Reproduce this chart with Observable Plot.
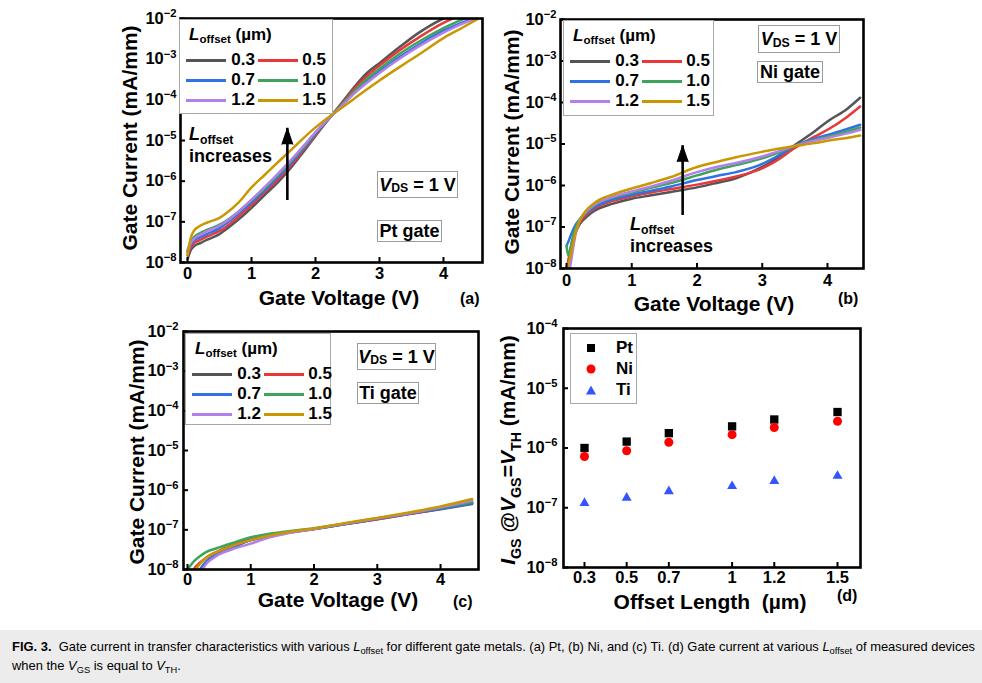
<!DOCTYPE html>
<html><head><meta charset="utf-8">
<script src="https://cdn.jsdelivr.net/npm/d3@7"></script>
<script src="https://cdn.jsdelivr.net/npm/@observablehq/plot@0.6"></script>
<style>
html,body{margin:0;padding:0;background:#fff;}
#fig{position:relative;width:982px;height:683px;overflow:hidden;font-family:"Liberation Sans",Arial,sans-serif;color:#000;}
.panel{position:absolute;}
.panel svg{position:absolute;left:0;top:0;overflow:visible;}
.abs{position:absolute;white-space:nowrap;}
.box{position:absolute;background:#fff;border:1px solid #9c9c9c;box-sizing:border-box;font-weight:bold;font-size:18px;line-height:1;display:flex;align-items:center;justify-content:center;white-space:nowrap;}
.leg{position:absolute;background:#fff;border:1px solid #a8a8a8;box-sizing:border-box;font-weight:bold;font-size:17px;}
.sub{font-size:0.68em;position:relative;top:0.3em;}
.note{position:absolute;font-weight:bold;font-size:18px;line-height:20px;white-space:nowrap;}
.tag{position:absolute;font-weight:bold;font-size:16px;white-space:nowrap;}
#cap{position:absolute;left:0;top:630px;width:982px;height:53px;background:#ececec;}
#captxt{position:absolute;left:12px;top:8px;font-family:"Liberation Sans Narrow","Liberation Sans",Arial,sans-serif;font-size:13.5px;line-height:18px;white-space:nowrap;transform-origin:0 0;}
#captxt .s{font-size:0.72em;position:relative;top:0.3em;}
</style></head>
<body><div id="fig"></div>
<script>
// ---------- shared ----------
const L_NAMES = ["0.3", "0.5", "0.7", "1.0", "1.2", "1.5"];
const L_COLORS = ["#555555", "#e8383a", "#2f72e6", "#3ea45c", "#b37fe8", "#c99700"];
const Y_TICKS_IV = [1e-8, 1e-7, 1e-6, 1e-5, 1e-4, 1e-3, 1e-2];
const X_TICKS_V = [0, 1, 2, 3, 4];

// ---------- (a) Pt gate ----------
const VA = [0, 0.05, 0.1, 0.2, 0.3, 0.5, 0.6, 0.8, 1.0, 1.2, 1.4, 1.6, 1.8, 2.0, 2.2, 2.4, 2.6, 2.8, 3.0, 3.3, 3.6, 4.0, 4.3, 4.55];
const A_03 = [1.2e-8, 2e-8, 2.5e-8, 3e-8, 3.6e-8, 5e-8, 6.5e-8, 1.15e-7, 2.2e-7, 4.5e-7, 9e-7, 2e-6, 5e-6, 1.3e-5, 3.3e-5, 8e-5, 2e-4, 4.5e-4, 8e-4, 1.9e-3, 4.3e-3, 1e-2, 1.5e-2, 2e-2];
const A_05 = [1.5e-8, 2.3e-8, 3e-8, 3.6e-8, 4.3e-8, 6e-8, 7.5e-8, 1.35e-7, 2.6e-7, 5.2e-7, 1.05e-6, 2.3e-6, 5.5e-6, 1.35e-5, 3.3e-5, 7.5e-5, 1.8e-4, 3.8e-4, 7e-4, 1.6e-3, 3.3e-3, 7.8e-3, 1.25e-2, 1.6e-2];
const A_07 = [1.8e-8, 2.7e-8, 3.5e-8, 4.2e-8, 5e-8, 7e-8, 9e-8, 1.6e-7, 3e-7, 5.8e-7, 1.2e-6, 2.6e-6, 6e-6, 1.45e-5, 3.3e-5, 7e-5, 1.5e-4, 2.9e-4, 5e-4, 1.1e-3, 2.2e-3, 5e-3, 8e-3, 1.1e-2];
const A_10 = [2e-8, 3.2e-8, 4.2e-8, 5.3e-8, 6.3e-8, 8.5e-8, 1.05e-7, 1.8e-7, 3.4e-7, 6.5e-7, 1.35e-6, 2.9e-6, 6.5e-6, 1.55e-5, 3.4e-5, 7.2e-5, 1.6e-4, 3.2e-4, 5.8e-4, 1.3e-3, 2.6e-3, 5.8e-3, 9.5e-3, 1.25e-2];
const A_12 = [1.8e-8, 3e-8, 3.8e-8, 4.8e-8, 5.8e-8, 8e-8, 1e-7, 1.8e-7, 3.5e-7, 7e-7, 1.45e-6, 3.1e-6, 7e-6, 1.6e-5, 3.4e-5, 6.8e-5, 1.4e-4, 2.6e-4, 4.6e-4, 1e-3, 2e-3, 4.5e-3, 7.5e-3, 1.05e-2];
const A_15 = [1.5e-8, 4e-8, 6e-8, 8e-8, 9.5e-8, 1.25e-7, 1.6e-7, 3e-7, 7e-7, 1.4e-6, 2.8e-6, 5.5e-6, 1.1e-5, 2.1e-5, 3.7e-5, 6.2e-5, 1.05e-4, 1.8e-4, 3e-4, 6.2e-4, 1.25e-3, 3.3e-3, 6e-3, 1e-2];
const ARROW_A = [{v: 1.56, from: 5.9e-7, to: 2e-5}];

// ---------- (b) Ni gate ----------
const VB = [0, 0.03, 0.06, 0.1, 0.15, 0.2, 0.3, 0.4, 0.5, 0.7, 1.0, 1.3, 1.6, 2.0, 2.3, 2.6, 3.0, 3.2, 3.5, 3.8, 4.0, 4.3, 4.5];
const B_03 = [1e-8, 1.5e-8, 2.5e-8, 4.5e-8, 8e-8, 1.15e-7, 1.7e-7, 2.3e-7, 2.8e-7, 3.6e-7, 4.8e-7, 5.8e-7, 7e-7, 9e-7, 1.15e-6, 1.5e-6, 2.8e-6, 4.3e-6, 9.5e-6, 2e-5, 3.5e-5, 7e-5, 1.3e-4];
const B_05 = [1e-8, 1.6e-8, 3e-8, 5.5e-8, 9e-8, 1.3e-7, 1.9e-7, 2.6e-7, 3.2e-7, 4.2e-7, 5.5e-7, 6.8e-7, 8.2e-7, 1.05e-6, 1.3e-6, 1.65e-6, 2.6e-6, 3.8e-6, 8e-6, 1.5e-5, 2.2e-5, 4.5e-5, 8e-5];
const B_07 = [3.5e-8, 4.5e-8, 6e-8, 8.5e-8, 1.2e-7, 1.5e-7, 2.1e-7, 2.8e-7, 3.5e-7, 4.6e-7, 6e-7, 7.5e-7, 9.5e-7, 1.35e-6, 1.7e-6, 2.1e-6, 3.3e-6, 4.8e-6, 9e-6, 1.35e-5, 1.65e-5, 2.3e-5, 2.9e-5];
const B_10 = [3.5e-8, 2e-8, 3e-8, 6e-8, 1.05e-7, 1.5e-7, 2.3e-7, 3.1e-7, 3.9e-7, 5.1e-7, 6.8e-7, 8.8e-7, 1.15e-6, 1.75e-6, 2.4e-6, 3.1e-6, 4.5e-6, 5.8e-6, 9e-6, 1.25e-5, 1.5e-5, 2e-5, 2.5e-5];
const B_12 = [5e-9, 7e-9, 1.2e-8, 3e-8, 8e-8, 1.4e-7, 2.3e-7, 3.2e-7, 4e-7, 5.3e-7, 7.2e-7, 9.5e-7, 1.3e-6, 2.1e-6, 2.8e-6, 3.5e-6, 5e-6, 6.3e-6, 9e-6, 1.2e-5, 1.4e-5, 1.8e-5, 2.2e-5];
const B_15 = [1e-8, 1.3e-8, 2e-8, 4e-8, 8.5e-8, 1.4e-7, 2.5e-7, 3.5e-7, 4.5e-7, 6e-7, 8.5e-7, 1.15e-6, 1.6e-6, 2.8e-6, 3.7e-6, 4.8e-6, 6.5e-6, 7.5e-6, 9e-6, 1.05e-5, 1.2e-5, 1.4e-5, 1.6e-5];
const ARROW_B = [{v: 1.78, from: 3.3e-7, to: 9.1e-6}];

// ---------- (c) Ti gate ----------
const VC = [0, 0.1, 0.2, 0.3, 0.4, 0.5, 0.7, 1.0, 1.3, 1.6, 2.0, 2.5, 3.0, 3.5, 4.0, 4.5];
const C_03 = [2e-9, 5e-9, 1e-8, 1.6e-8, 2.1e-8, 2.6e-8, 3.5e-8, 5.5e-8, 7e-8, 8.5e-8, 1.05e-7, 1.4e-7, 1.85e-7, 2.5e-7, 3.3e-7, 4.5e-7];
const C_05 = [3e-9, 1e-8, 1.5e-8, 2e-8, 2.5e-8, 3e-8, 4e-8, 5.8e-8, 7.2e-8, 8.7e-8, 1.05e-7, 1.4e-7, 1.85e-7, 2.5e-7, 3.4e-7, 4.8e-7];
const C_07 = [2e-9, 5e-9, 1e-8, 1.6e-8, 2.1e-8, 2.6e-8, 3.6e-8, 5.5e-8, 7e-8, 8.6e-8, 1.05e-7, 1.4e-7, 1.9e-7, 2.55e-7, 3.4e-7, 4.7e-7];
const C_10 = [1e-8, 1.6e-8, 2.2e-8, 2.8e-8, 3.2e-8, 3.6e-8, 4.6e-8, 6.5e-8, 8e-8, 9.2e-8, 1.1e-7, 1.45e-7, 1.95e-7, 2.6e-7, 3.6e-7, 5e-7];
const C_12 = [1e-9, 4e-9, 8e-9, 1.4e-8, 1.9e-8, 2.4e-8, 3.2e-8, 4.5e-8, 6.5e-8, 8.3e-8, 1.05e-7, 1.45e-7, 1.95e-7, 2.6e-7, 3.7e-7, 5.5e-7];
const C_15 = [2e-9, 8e-9, 1.4e-8, 2e-8, 2.5e-8, 2.9e-8, 3.9e-8, 5.5e-8, 7.2e-8, 8.8e-8, 1.08e-7, 1.48e-7, 2e-7, 2.75e-7, 3.9e-7, 6e-7];

// ---------- (d) I_GS at V_GS = V_TH ----------
const OFFSET = [0.3, 0.5, 0.7, 1.0, 1.2, 1.5];
const METALS = ["Pt", "Ni", "Ti"];
const METAL_COLORS = ["#000000", "#ff0000", "#3355ff"];
const METAL_SYMBOLS = ["square", "circle", "triangle"];
const D_PT = [1e-6, 1.28e-6, 1.77e-6, 2.3e-6, 3e-6, 4e-6];
const D_NI = [7.2e-7, 9e-7, 1.25e-6, 1.67e-6, 2.2e-6, 2.8e-6];
const D_TI = [1.2e-7, 1.47e-7, 1.88e-7, 2.3e-7, 2.8e-7, 3.4e-7];
const Y_TICKS_D = [1e-8, 1e-7, 1e-6, 1e-5, 1e-4];

// ---------- helpers ----------
const FONT = '"Liberation Sans", Arial, sans-serif';
const fig = document.getElementById("fig");
const supFmt = d => "10^{" + String(Math.round(Math.log10(d))).replace("-", "\u2212") + "}";
const toLong = (V, series) => series.flatMap((vals, k) => vals.map((y, i) => ({v: V[i], i: y, L: L_NAMES[k]})));

function el(tag, cls, parent, css) {
  const e = document.createElement(tag);
  if (cls) e.className = cls;
  if (css) e.style.cssText = css;
  parent.appendChild(e);
  return e;
}
function panel(left, top) { return el("div", "panel", fig, `left:${left}px;top:${top}px;width:490px;height:310px`); }

function richify(svg) {
  const NS = "http://www.w3.org/2000/svg";
  svg.querySelectorAll("text").forEach(t => {
    const s = t.textContent;
    if (!/[_^~]\{/.test(s)) return;
    const fs = parseFloat(getComputedStyle(t).fontSize);
    t.textContent = "";
    const re = /([_^~])\{([^}]*)\}/g;
    let last = 0, m, pending = 0;
    const add = (txt, kind) => {
      if (!txt) return;
      const sp = document.createElementNS(NS, "tspan");
      sp.textContent = txt;
      let dy = 0;
      if (kind === "_") { dy = 0.28 * fs; sp.setAttribute("font-size", (0.68 * fs).toFixed(1)); }
      else if (kind === "^") { dy = -0.42 * fs; sp.setAttribute("font-size", (0.68 * fs).toFixed(1)); }
      else if (kind === "~") sp.setAttribute("font-style", "italic");
      const total = dy + pending; pending = -dy;
      if (total) sp.setAttribute("dy", total.toFixed(1));
      t.appendChild(sp);
    };
    while ((m = re.exec(s))) { add(s.slice(last, m.index), ""); add(m[2], m[1]); last = re.lastIndex; }
    add(s.slice(last), "");
  });
}
function place(svg, aria, c) {
  const g = svg.querySelector(`g[aria-label="${aria}"]`);
  if (!g || !c) return;
  const r = g.getBoundingClientRect(), s = svg.getBoundingClientRect();
  const dx = c[0] - (r.left - s.left + r.width / 2), dy = c[1] - (r.top - s.top + r.height / 2);
  g.setAttribute("transform", ((g.getAttribute("transform") || "") + ` translate(${dx.toFixed(1)},${dy.toFixed(1)})`).trim());
}

function buildPanel(container, cfg) {
  const w = 490, h = 310, m = cfg.m;
  const pw = w - m[3] - m[1], ph = h - m[0] - m[2];
  const svg = Plot.plot({
    width: w, height: h, marginTop: m[0], marginRight: m[1], marginBottom: m[2], marginLeft: m[3],
    style: {fontFamily: FONT, fontSize: "16px", fontWeight: "bold", background: "transparent", color: "#000", overflow: "visible"},
    x: {domain: cfg.xDomain},
    y: {type: "log", domain: cfg.yDomain},
    color: {domain: L_NAMES, range: L_COLORS},
    marks: [
      ...cfg.marks,
      Plot.frame({stroke: "#000", strokeWidth: 2.6}),
      Plot.tickX(cfg.xTicks, {x: d => d, insetTop: ph - 5, strokeWidth: 2}),
      Plot.tickY(cfg.yTicks, {y: d => d, insetRight: pw - 5, strokeWidth: 2}),
      Plot.axisX(cfg.xTicks, {tickSize: 0, tickPadding: cfg.xPad, tickFormat: d => String(d), label: cfg.xLabel, labelAnchor: "center", labelArrow: "none"}),
      Plot.axisY(cfg.yTicks, {tickSize: 0, tickPadding: cfg.yPad, tickFormat: supFmt, label: cfg.yLabel, labelAnchor: "center", labelArrow: "none"})
    ]
  });
  container.appendChild(svg);
  const fsMap = {"x-axis tick label": 16.5, "y-axis tick label": 16.5, "x-axis label": 21, "y-axis label": 21};
  for (const [a, f] of Object.entries(fsMap)) {
    const g = svg.querySelector(`g[aria-label="${a}"]`);
    if (g) g.style.fontSize = f + "px";
  }
  richify(svg);
  place(svg, "x-axis label", cfg.xt);
  place(svg, "y-axis label", cfg.yt);
  return svg;
}

function lineLegend(parent, [l, t, w, h]) {
  const box = el("div", "leg", parent, `left:${l}px;top:${t}px;width:${w}px;height:${h}px`);
  const title = el("div", "abs", box, "left:9px;top:4px;line-height:22px");
  title.innerHTML = '<i>L</i><span class="sub">offset</span> (µm)';
  L_NAMES.forEach((name, k) => {
    const row = Math.floor(k / 2), col = k % 2;
    const cy = 40 + 20 * row;
    el("div", "abs", box, `left:${6 + 72 * col}px;top:${cy - 1.5}px;width:40px;height:3px;background:${L_COLORS[k]}`);
    const lb = el("div", "abs", box, `left:${44 + 71 * col}px;top:${cy - 10}px;width:31px;text-align:right;line-height:20px`);
    lb.textContent = name;
  });
}
function markerLegend(parent, [l, t, w, h]) {
  const box = el("div", "leg", parent, `left:${l}px;top:${t}px;width:${w}px;height:${h}px`);
  METALS.forEach((name, k) => {
    const cy = 14 + 21 * k;
    const sym = METAL_SYMBOLS[k], c = METAL_COLORS[k];
    let shape;
    if (sym === "square") shape = `<rect x="1" y="1" width="8" height="8" fill="${c}"/>`;
    else if (sym === "circle") shape = `<circle cx="5" cy="5" r="4.5" fill="${c}"/>`;
    else shape = `<polygon points="5,0.5 10,9.5 0,9.5" fill="${c}"/>`;
    const s = el("div", "abs", box, `left:${15}px;top:${cy - 5}px;width:10px;height:10px`);
    s.innerHTML = `<svg width="10" height="10" style="display:block">${shape}</svg>`;
    const lb = el("div", "abs", box, `left:45px;top:${cy - 10}px;line-height:20px`);
    lb.textContent = name;
  });
}
function textBox(parent, html, [l, t, w, h]) {
  const b = el("div", "box", parent, `left:${l}px;top:${t}px;width:${w}px;height:${h}px`);
  b.innerHTML = html;
}
const VDS_HTML = '<i>V</i><span class="sub">DS</span>&nbsp;= 1 V';
const NOTE_HTML = '<i>L</i><span class="sub">offset</span><br>increases';
const lineMarks = (V, series) => [Plot.line(toLong(V, series), {x: "v", y: "i", z: "L", stroke: "L", strokeWidth: 2.5, strokeLinejoin: "round", curve: "monotone-x", clip: true})];
const arrowMarks = (A) => [
  Plot.ruleX(A, {x: "v", y1: "from", y2: "to", strokeWidth: 2.6, insetTop: 10}),
  Plot.vector(A, {x: "v", y: "to", shape: "spike", length: 16, r: 5.5, anchor: "end", fill: "#000", stroke: "#000", strokeWidth: 1})
];

// ---------- (a) ----------
const pa = panel(0, 0);
buildPanel(pa, {
  m: [18, 8, 48, 180], xDomain: [-0.11, 4.61], yDomain: [1e-8, 1e-2],
  xTicks: X_TICKS_V, yTicks: Y_TICKS_IV, xPad: 5, yPad: 4,
  xLabel: "Gate Voltage (V)", yLabel: "Gate Current (mA/mm)", xt: [339, 297], yt: [129, 138],
  marks: [...lineMarks(VA, [A_03, A_05, A_07, A_10, A_12, A_15]), ...arrowMarks(ARROW_A)]
});
lineLegend(pa, [179, 19, 154, 95]);
textBox(pa, VDS_HTML, [377, 171, 81, 27]);
textBox(pa, "Pt gate", [377, 220, 65, 22]);
el("div", "note", pa, "left:189px;top:124px").innerHTML = NOTE_HTML;
el("div", "tag", pa, "left:460px;top:290px").textContent = "(a)";

// ---------- (b) ----------
const pb = panel(490, 0);
buildPanel(pb, {
  m: [19, 117, 42, 70], xDomain: [-0.092, 4.552], yDomain: [1e-8, 1e-2],
  xTicks: X_TICKS_V, yTicks: Y_TICKS_IV, xPad: 6, yPad: 4,
  xLabel: "Gate Voltage (V)", yLabel: "Gate Current (mA/mm)", xt: [224, 303], yt: [21, 142],
  marks: [...lineMarks(VB, [B_03, B_05, B_07, B_10, B_12, B_15]), ...arrowMarks(ARROW_B)]
});
lineLegend(pb, [73, 20, 151, 96]);
textBox(pb, VDS_HTML, [268, 25, 82, 28]);
textBox(pb, "Ni gate", [267, 61, 66, 22]);
el("div", "note", pb, "left:140px;top:214px").innerHTML = NOTE_HTML;
el("div", "tag", pb, "left:348px;top:290px").textContent = "(b)";

// ---------- (c) ----------
const pc = panel(0, 310);
buildPanel(pc, {
  m: [21, 12, 51, 183], xDomain: [-0.063, 4.6], yDomain: [1e-8, 1e-2],
  xTicks: X_TICKS_V, yTicks: Y_TICKS_IV, xPad: 4, yPad: 5,
  xLabel: "Gate Voltage (V)", yLabel: "Gate Current (mA/mm)", xt: [338, 289], yt: [136, 142],
  marks: lineMarks(VC, [C_03, C_05, C_07, C_10, C_12, C_15])
});
lineLegend(pc, [185, 23, 146, 92]);
textBox(pc, VDS_HTML, [357, 33, 79, 27]);
textBox(pc, "Ti gate", [357, 72, 62, 22]);
el("div", "tag", pc, "left:453px;top:283px").textContent = "(c)";

// ---------- (d) ----------
const pd = panel(490, 310);
const METAL_DATA = [D_PT, D_NI, D_TI];
const METAL_R = [4.7, 4.5, 3.7];
buildPanel(pd, {
  m: [18, 120, 53, 73], xDomain: [0.2004, 1.609], yDomain: [1e-8, 1e-4],
  xTicks: OFFSET, yTicks: Y_TICKS_D, xPad: 4, yPad: 6,
  xLabel: "Offset Length\u00a0\u00a0(µm)", yLabel: "~{I}_{GS} @~{V}_{GS}=~{V}_{TH} (mA/mm)", xt: [220, 291], yt: [20, 140],
  marks: METALS.map((name, k) => Plot.dot(OFFSET, {x: d => d, y: (d, i) => METAL_DATA[k][i], symbol: METAL_SYMBOLS[k], fill: METAL_COLORS[k], r: METAL_R[k]}))
});
markerLegend(pd, [80, 23, 67, 71]);
el("div", "tag", pd, "left:347px;top:277px").textContent = "(d)";

// ---------- caption ----------
const cap = el("div", "", fig); cap.id = "cap";
const ct = el("div", "", cap); ct.id = "captxt";
ct.innerHTML = '<span id="capl1"><b>FIG. 3.</b>&nbsp; Gate current in transfer characteristics with various <i>L</i><span class="s">offset</span> for different gate metals. (a) Pt, (b) Ni, and (c) Ti. (d) Gate current at various <i>L</i><span class="s">offset</span> of measured devices</span><br>when the <i>V</i><span class="s">GS</span> is equal to <i>V</i><span class="s">TH</span>.';
const l1w = document.getElementById("capl1").getBoundingClientRect().width;
ct.style.transform = `scaleX(${(963 / l1w).toFixed(4)})`;
</script>
</body></html>
